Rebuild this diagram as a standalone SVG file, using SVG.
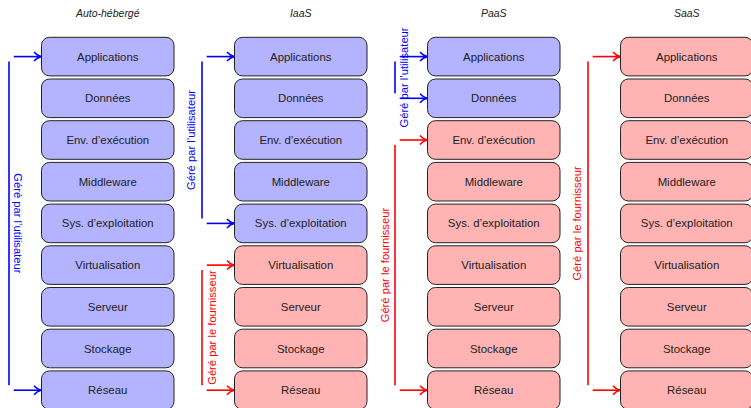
<svg xmlns="http://www.w3.org/2000/svg" width="751" height="408" viewBox="0 0 751 408">
<defs>
<style>
.box rect{stroke:#222;stroke-width:1;}
.u rect{fill:#b3b3ff;}
.f rect{fill:#ffb3b3;}
.box text{font-family:"Liberation Sans",Arial,sans-serif;font-size:11.4px;fill:#222;text-anchor:middle;dominant-baseline:central;}
.title{font-family:"Liberation Sans",Arial,sans-serif;font-size:10.5px;font-style:italic;fill:#222;text-anchor:middle;}
.lb{stroke:#0000ff;stroke-width:1.6;fill:none;}
.lr{stroke:#ff0000;stroke-width:1.6;fill:none;}
.ab{stroke:#0000ff;stroke-width:1.6;fill:none;marker-end:url(#mb);}
.ar{stroke:#ff0000;stroke-width:1.6;fill:none;marker-end:url(#mr);}
.tb{font-family:"Liberation Sans",Arial,sans-serif;font-size:11.2px;fill:#0000ff;text-anchor:middle;dominant-baseline:central;}
.tr{font-family:"Liberation Sans",Arial,sans-serif;font-size:11.2px;fill:#ff0000;text-anchor:middle;dominant-baseline:central;}
</style>
<marker id="mb" markerUnits="userSpaceOnUse" markerWidth="12" markerHeight="12" refX="10" refY="6" orient="auto" overflow="visible">
<path d="M3,1.5 Q6,5 10,6 Q6,7 3,10.5" fill="none" stroke="#0000ff" stroke-width="1.6"/>
</marker>
<marker id="mr" markerUnits="userSpaceOnUse" markerWidth="12" markerHeight="12" refX="10" refY="6" orient="auto" overflow="visible">
<path d="M3,1.5 Q6,5 10,6 Q6,7 3,10.5" fill="none" stroke="#ff0000" stroke-width="1.6"/>
</marker>
</defs>
<rect width="751" height="408" fill="#ffffff"/>

<g id="titles">
<text class="title" x="107.75" y="17">Auto-hébergé</text>
<text class="title" x="300.75" y="17">IaaS</text>
<text class="title" x="493.75" y="17">PaaS</text>
<text class="title" x="686.75" y="17">SaaS</text>
</g>

<!-- Column 1: Auto-hébergé -->
<g id="c1-apps" class="box u"><rect x="41.5" y="37.3" width="132.5" height="38.6" rx="8"/><text x="107.75" y="56.6">Applications</text></g>
<g id="c1-donnees" class="box u"><rect x="41.5" y="79" width="132.5" height="38.6" rx="8"/><text x="107.75" y="98.3">Données</text></g>
<g id="c1-env" class="box u"><rect x="41.5" y="120.7" width="132.5" height="38.6" rx="8"/><text x="107.75" y="140">Env. d’exécution</text></g>
<g id="c1-middleware" class="box u"><rect x="41.5" y="162.4" width="132.5" height="38.6" rx="8"/><text x="107.75" y="181.7">Middleware</text></g>
<g id="c1-sys" class="box u"><rect x="41.5" y="204.1" width="132.5" height="38.6" rx="8"/><text x="107.75" y="223.4">Sys. d’exploitation</text></g>
<g id="c1-virt" class="box u"><rect x="41.5" y="245.8" width="132.5" height="38.6" rx="8"/><text x="107.75" y="265.1">Virtualisation</text></g>
<g id="c1-serveur" class="box u"><rect x="41.5" y="287.5" width="132.5" height="38.6" rx="8"/><text x="107.75" y="306.8">Serveur</text></g>
<g id="c1-stockage" class="box u"><rect x="41.5" y="329.2" width="132.5" height="38.6" rx="8"/><text x="107.75" y="348.5">Stockage</text></g>
<g id="c1-reseau" class="box u"><rect x="41.5" y="370.9" width="132.5" height="38.6" rx="8"/><text x="107.75" y="390.2">Réseau</text></g>

<!-- Column 2: IaaS -->
<g id="c2-apps" class="box u"><rect x="234.5" y="37.3" width="132.5" height="38.6" rx="8"/><text x="300.75" y="56.6">Applications</text></g>
<g id="c2-donnees" class="box u"><rect x="234.5" y="79" width="132.5" height="38.6" rx="8"/><text x="300.75" y="98.3">Données</text></g>
<g id="c2-env" class="box u"><rect x="234.5" y="120.7" width="132.5" height="38.6" rx="8"/><text x="300.75" y="140">Env. d’exécution</text></g>
<g id="c2-middleware" class="box u"><rect x="234.5" y="162.4" width="132.5" height="38.6" rx="8"/><text x="300.75" y="181.7">Middleware</text></g>
<g id="c2-sys" class="box u"><rect x="234.5" y="204.1" width="132.5" height="38.6" rx="8"/><text x="300.75" y="223.4">Sys. d’exploitation</text></g>
<g id="c2-virt" class="box f"><rect x="234.5" y="245.8" width="132.5" height="38.6" rx="8"/><text x="300.75" y="265.1">Virtualisation</text></g>
<g id="c2-serveur" class="box f"><rect x="234.5" y="287.5" width="132.5" height="38.6" rx="8"/><text x="300.75" y="306.8">Serveur</text></g>
<g id="c2-stockage" class="box f"><rect x="234.5" y="329.2" width="132.5" height="38.6" rx="8"/><text x="300.75" y="348.5">Stockage</text></g>
<g id="c2-reseau" class="box f"><rect x="234.5" y="370.9" width="132.5" height="38.6" rx="8"/><text x="300.75" y="390.2">Réseau</text></g>

<!-- Column 3: PaaS -->
<g id="c3-apps" class="box u"><rect x="427.5" y="37.3" width="132.5" height="38.6" rx="8"/><text x="493.75" y="56.6">Applications</text></g>
<g id="c3-donnees" class="box u"><rect x="427.5" y="79" width="132.5" height="38.6" rx="8"/><text x="493.75" y="98.3">Données</text></g>
<g id="c3-env" class="box f"><rect x="427.5" y="120.7" width="132.5" height="38.6" rx="8"/><text x="493.75" y="140">Env. d’exécution</text></g>
<g id="c3-middleware" class="box f"><rect x="427.5" y="162.4" width="132.5" height="38.6" rx="8"/><text x="493.75" y="181.7">Middleware</text></g>
<g id="c3-sys" class="box f"><rect x="427.5" y="204.1" width="132.5" height="38.6" rx="8"/><text x="493.75" y="223.4">Sys. d’exploitation</text></g>
<g id="c3-virt" class="box f"><rect x="427.5" y="245.8" width="132.5" height="38.6" rx="8"/><text x="493.75" y="265.1">Virtualisation</text></g>
<g id="c3-serveur" class="box f"><rect x="427.5" y="287.5" width="132.5" height="38.6" rx="8"/><text x="493.75" y="306.8">Serveur</text></g>
<g id="c3-stockage" class="box f"><rect x="427.5" y="329.2" width="132.5" height="38.6" rx="8"/><text x="493.75" y="348.5">Stockage</text></g>
<g id="c3-reseau" class="box f"><rect x="427.5" y="370.9" width="132.5" height="38.6" rx="8"/><text x="493.75" y="390.2">Réseau</text></g>

<!-- Column 4: SaaS -->
<g id="c4-apps" class="box f"><rect x="620.5" y="37.3" width="132.5" height="38.6" rx="8"/><text x="686.75" y="56.6">Applications</text></g>
<g id="c4-donnees" class="box f"><rect x="620.5" y="79" width="132.5" height="38.6" rx="8"/><text x="686.75" y="98.3">Données</text></g>
<g id="c4-env" class="box f"><rect x="620.5" y="120.7" width="132.5" height="38.6" rx="8"/><text x="686.75" y="140">Env. d’exécution</text></g>
<g id="c4-middleware" class="box f"><rect x="620.5" y="162.4" width="132.5" height="38.6" rx="8"/><text x="686.75" y="181.7">Middleware</text></g>
<g id="c4-sys" class="box f"><rect x="620.5" y="204.1" width="132.5" height="38.6" rx="8"/><text x="686.75" y="223.4">Sys. d’exploitation</text></g>
<g id="c4-virt" class="box f"><rect x="620.5" y="245.8" width="132.5" height="38.6" rx="8"/><text x="686.75" y="265.1">Virtualisation</text></g>
<g id="c4-serveur" class="box f"><rect x="620.5" y="287.5" width="132.5" height="38.6" rx="8"/><text x="686.75" y="306.8">Serveur</text></g>
<g id="c4-stockage" class="box f"><rect x="620.5" y="329.2" width="132.5" height="38.6" rx="8"/><text x="686.75" y="348.5">Stockage</text></g>
<g id="c4-reseau" class="box f"><rect x="620.5" y="370.9" width="132.5" height="38.6" rx="8"/><text x="686.75" y="390.2">Réseau</text></g>

<g id="connectors">
<!-- col 1 user -->
<line class="lb" x1="9" y1="61.6" x2="9" y2="385.2"/>
<line class="ab" x1="13.7" y1="56.6" x2="41" y2="56.6"/>
<line class="ab" x1="13.7" y1="390.2" x2="41" y2="390.2"/>
<text class="tb" transform="translate(18,223.4) rotate(90)">Géré par l’utilisateur</text>
<!-- col 2 user -->
<line class="lb" x1="202" y1="61.6" x2="202" y2="218.4"/>
<line class="ab" x1="206.7" y1="56.6" x2="234" y2="56.6"/>
<line class="ab" x1="206.7" y1="223.4" x2="234" y2="223.4"/>
<text class="tb" transform="translate(191,140) rotate(-90)">Géré par l’utilisateur</text>
<!-- col 2 provider -->
<line class="lr" x1="202" y1="270.1" x2="202" y2="385.2"/>
<line class="ar" x1="206.7" y1="265.1" x2="234" y2="265.1"/>
<line class="ar" x1="206.7" y1="390.2" x2="234" y2="390.2"/>
<text class="tr" transform="translate(212,327.6) rotate(-90)">Géré par le fournisseur</text>
<!-- col 3 user -->
<line class="lb" x1="395" y1="61.6" x2="395" y2="93.3"/>
<line class="ab" x1="399.7" y1="56.6" x2="427" y2="56.6"/>
<line class="ab" x1="399.7" y1="98.3" x2="427" y2="98.3"/>
<text class="tb" transform="translate(404,77.5) rotate(-90)">Géré par l’utilisateur</text>
<!-- col 3 provider -->
<line class="lr" x1="395" y1="145" x2="395" y2="385.2"/>
<line class="ar" x1="399.7" y1="140" x2="427" y2="140"/>
<line class="ar" x1="399.7" y1="390.2" x2="427" y2="390.2"/>
<text class="tr" transform="translate(384.5,265.1) rotate(-90)">Géré par le fournisseur</text>
<!-- col 4 provider -->
<line class="lr" x1="588" y1="61.6" x2="588" y2="385.2"/>
<line class="ar" x1="592.7" y1="56.6" x2="620" y2="56.6"/>
<line class="ar" x1="592.7" y1="390.2" x2="620" y2="390.2"/>
<text class="tr" transform="translate(577,223.4) rotate(-90)">Géré par le fournisseur</text>
</g>
</svg>
